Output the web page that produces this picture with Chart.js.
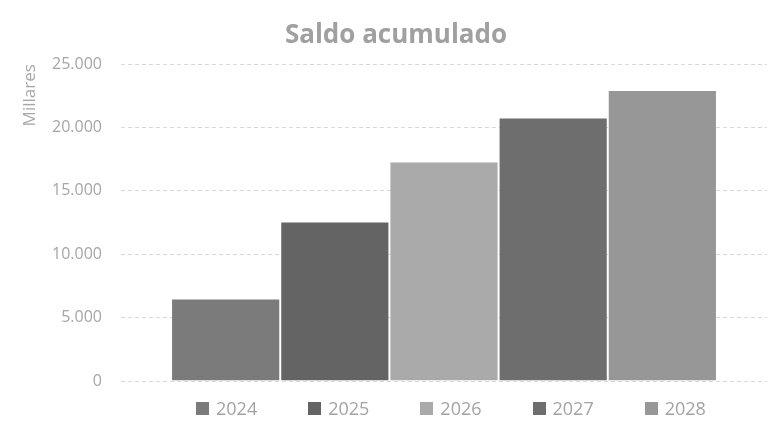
<!DOCTYPE html>
<html>
<head>
<meta charset="utf-8">
<script src="https://cdn.jsdelivr.net/npm/chart.js@4"></script>
<style>
  html, body { margin: 0; padding: 0; background: #fff; }
  #wrap { position: relative; width: 777px; height: 429px; }
  #legend {
    position: absolute; left: 196px; top: 398px;
    display: flex; font-family: 'Open Sans', 'Noto Sans', sans-serif;
    font-size: 18px; color: #a3a3a3; line-height: 20px;
  }
  #legend .item { display: flex; align-items: center; margin-right: 51px; }
  #legend .box  { width: 13px; height: 13px; margin-right: 7px; }
</style>
</head>
<body>
<div id="wrap">
  <canvas id="saldoChart"></canvas>
  <div id="legend"></div>
</div>
<script>
const years   = ['2024', '2025', '2026', '2027', '2028'];
const saldo   = [6520, 12580, 17320, 20800, 22970];
const colores = ['#7b7b7b', '#646464', '#aaaaaa', '#6e6e6e', '#979797'];
const yTicks  = [0, 5000, 10000, 15000, 20000, 25000];

const FONT = "'Open Sans', 'Noto Sans', sans-serif";
const fmtMiles = v => Number(v).toLocaleString('de-DE');

const datasets = years.map((y, i) => ({
  label: y,
  data: [saldo[i]],
  backgroundColor: colores[i],
  borderColor: 'rgba(255,255,255,0.1)',
  borderWidth: 1,
  barPercentage: 1,
  categoryPercentage: 0.845,
}));

const chart = new Chart(document.getElementById('saldoChart'), {
  type: 'bar',
  data: { labels: [''], datasets },
  options: {
    responsive: true,
    maintainAspectRatio: false,
    animation: false,
    layout: { padding: { left: 25, right: 10, top: 16, bottom: 0 } },
    plugins: {
      title: {
        display: true,
        text: 'Saldo acumulado',
        color: '#a0a0a0',
        font: { family: FONT, size: 26, weight: '700' },
        padding: { top: 4, bottom: 13 },
      },
      legend: { display: false },
      tooltip: { enabled: false },
    },
    scales: {
      x: {
        grid: { display: false },
        border: { display: false },
        ticks: { display: false },
        afterFit: s => { s.height = 48; },
      },
      y: {
        min: yTicks[0],
        max: yTicks[yTicks.length - 1],
        afterFit: s => { s.width = 96; },
        afterBuildTicks: s => { s.ticks = yTicks.map(v => ({ value: v })); },
        ticks: {
          color: '#a6a6a6',
          font: { family: FONT, size: 16 },
          padding: 19,
          callback: v => fmtMiles(v),
        },
        grid: { color: '#d9d9d9', drawTicks: false },
        border: { display: false, dash: [4, 3] },
        title: {
          display: true,
          text: 'Millares',
          align: 'end',
          color: '#a6a6a6',
          font: { family: FONT, size: 17 },
          padding: { top: -5, bottom: 0 },
        },
      },
    },
  },
});

// leyenda en HTML
document.getElementById('legend').innerHTML = chart.data.datasets.map(ds =>
  `<div class="item"><span class="box" style="background:${ds.backgroundColor}"></span>${ds.label}</div>`
).join('');
</script>
</body>
</html>
